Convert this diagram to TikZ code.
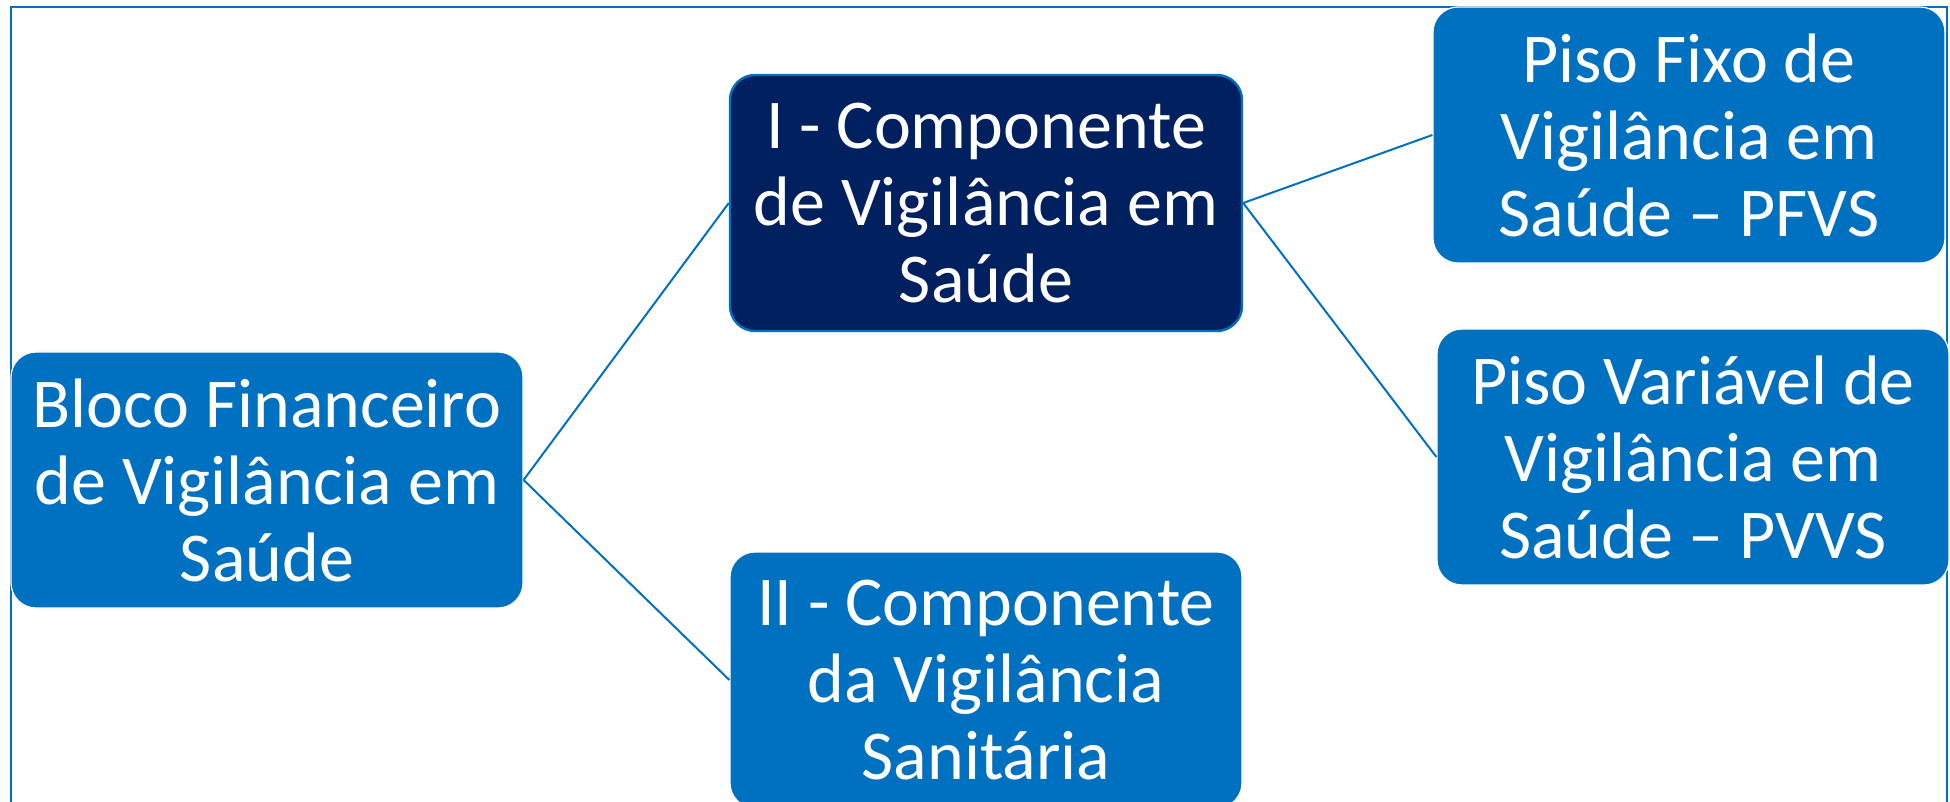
\documentclass[tikz,border=0pt]{standalone}
\usepackage{fontspec}
\setmainfont{Carlito}
\definecolor{boxblue}{HTML}{0070C0}
\definecolor{boxnavy}{HTML}{002060}
\begin{document}
\begin{tikzpicture}[x=0.5pt,y=-0.5pt]
    % Define styles for boxes and links
    \tikzstyle{box}=[rectangle,rounded corners=12.5pt,fill=boxblue,draw=white,line width=0.6pt,minimum width=256pt,minimum height=128pt,inner sep=0pt,text=white,align=center,font=\fontsize{35}{38.5}\selectfont]
    \tikzstyle{link}=[draw=boxblue,line width=1pt]

    \useasboundingbox (0,0) rectangle (1950,802);
    \clip (0,0) rectangle (1950,802);

    % Outer frame
    \draw[boxblue,line width=1pt] (11,7) rectangle (1947,840);

    % Root block
    \node[box] (bloco) at (267,480) {Bloco Financeiro\\de Vigilância em\\Saúde};

    % Components
    \node[box,fill=boxnavy,draw=boxblue,line width=1.2pt] (comp1) at (986,203) {I - Componente\\de Vigilância em\\Saúde};
    \node[box] (comp2) at (986,680) {II - Componente\\da Vigilância\\Sanitária};

    % Floors of component I
    \node[box] (pfvs) at (1689,135) {Piso Fixo de\\Vigilância em\\Saúde – PFVS};
    \node[box] (pvvs) at (1693,457) {Piso Variável de\\Vigilância em\\Saúde – PVVS};

    % Connect the tree
    \foreach \from/\to in {bloco/comp1, bloco/comp2, comp1/pfvs, comp1/pvvs}{
        \draw[link] (\from.east) -- (\to.west);
    }
\end{tikzpicture}
\end{document}
